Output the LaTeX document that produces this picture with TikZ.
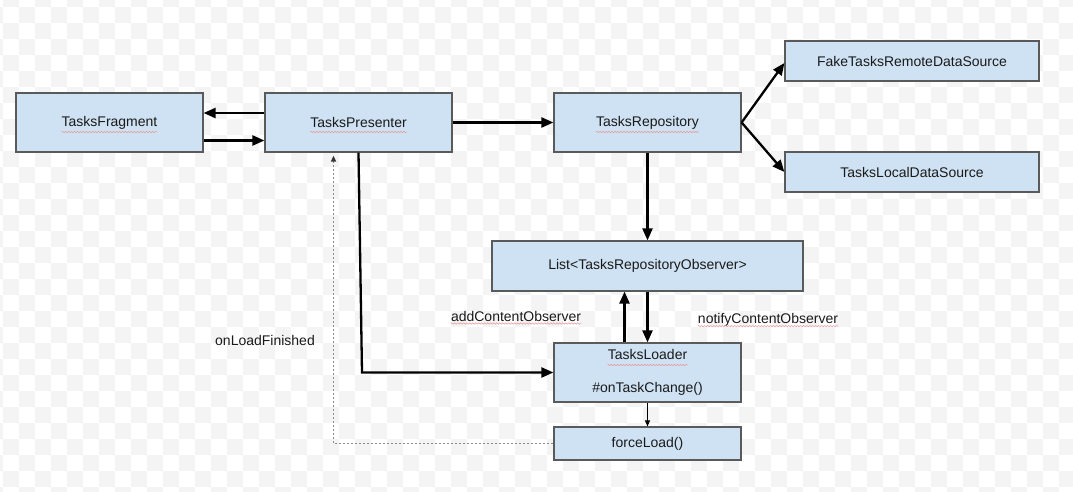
\documentclass[tikz,border=0pt]{standalone}
\usepackage{fontspec}
\setmainfont{Liberation Sans}
\usetikzlibrary{arrows.meta,decorations.pathmorphing}
\definecolor{boxfill}{HTML}{CFE2F3}
\definecolor{boxline}{HTML}{5A5A5A}
\definecolor{checker}{HTML}{F4F4F4}
\definecolor{squigcol}{HTML}{E89A9A}
\definecolor{dashcol}{HTML}{8C8C8C}
\definecolor{txt}{HTML}{1A1A1A}
\begin{document}
\begin{tikzpicture}[x=1pt,y=-1pt,
  font=\fontsize{14}{16}\selectfont, text=txt,
  box/.style={draw=boxline, fill=boxfill, line width=1.2pt, inner sep=0pt, align=center},
  conn/.style={line width=2.3pt, -{Triangle[length=12pt,width=10pt]}},
  thinconn/.style={line width=0.9pt, -{Triangle[length=6pt,width=5pt]}},
  dashconn/.style={draw=dashcol, line width=1.6pt, dash pattern=on 2pt off 2pt, -{Triangle[length=6pt,width=5pt,fill=black!80,color=black!80]}},
  lbl/.style={inner sep=0pt},
  squiggle/.style={draw=squigcol, line width=0.5pt, decorate, decoration={snake, amplitude=0.7pt, segment length=3pt}}]
% background
\fill[white] (0,0) rectangle (1073,492);
\begin{scope}
\clip (0,0) rectangle (1073,492);
\foreach \r in {-1,...,30} {
  \foreach \c in {-1,...,66} {
    \ifodd\numexpr\r+\c+2\relax
      \fill[checker] ({3+16*\c},{7+16*\r}) rectangle ++(16,16);
    \fi
  }
}
\end{scope}
\useasboundingbox (0,0) rectangle (1073,492);

% boxes
\node[box, minimum width=187pt, minimum height=59pt] (F) at (109.5,122.5) {TasksFragment};
\node[box, minimum width=187pt, minimum height=59pt] (P) at (358.5,122.5) {TasksPresenter};
\node[box, minimum width=187pt, minimum height=59pt] (R) at (647.5,122.5) {TasksRepository};
\node[box, minimum width=254pt, minimum height=40pt] (Fake) at (912,61) {FakeTasksRemoteDataSource};
\node[box, minimum width=254pt, minimum height=40pt] (Local) at (912,172) {TasksLocalDataSource};
\node[box, minimum width=311pt, minimum height=50pt] (L) at (647.5,266) {List<TasksRepositoryObserver>};
\node[box, minimum width=187pt, minimum height=59pt, font=\fontsize{14}{33}\selectfont] (TL) at (647.5,372.5) {TasksLoader\\\#onTaskChange()};
\node[box, minimum width=187pt, minimum height=33pt] (FL) at (647.5,443.5) {forceLoad()};

% labels
\node[lbl] (olf) at (265,340) {onLoadFinished};
\node[lbl] (aco) at (516,316) {addContentObserver};
\node[lbl] (nco) at (768,320) {notifyContentObserver};

% spell-check squiggles
\draw[squiggle] ([xshift=-48pt,yshift=-9.5pt]F.center) -- ++(96,0);
\draw[squiggle] ([xshift=-48.5pt,yshift=-9.5pt]P.center) -- ++(97,0);
\draw[squiggle] ([xshift=-51.5pt,yshift=-9.5pt]R.center) -- ++(103,0);
\draw[squiggle] ([xshift=-40pt,yshift=7.5pt]TL.center) -- ++(80,0);
\draw[squiggle] ([yshift=-2.5pt]aco.base west) -- ([yshift=-2.5pt]aco.base east);
\draw[squiggle] ([yshift=-2.5pt]nco.base west) -- ([yshift=-2.5pt]nco.base east);

% connectors
\draw[conn] ([yshift=9.5pt]P.west) -- ([yshift=9.5pt]F.east);
\draw[conn] ([yshift=-18pt]F.east) -- ([yshift=-18pt]P.west);
\draw[conn] (P.east) -- (R.west);
\draw[conn] (R.east) -- ([yshift=-2pt]Fake.west);
\draw[conn] (R.east) -- (Local.west);
\draw[conn] (R.south) -- (L.north);
\draw[conn] ([xshift=-23pt]TL.north) -- ([xshift=-23pt]L.south);
\draw[conn] (L.south) -- (TL.north);
\draw[thinconn] (TL.south) -- (FL.north);
\coordinate (bend) at (362,372.5);
\draw[conn] (P.south) -- (bend) -- (TL.west);
\draw[dashconn] (FL.west) -| ([xshift=-25pt,yshift=-3pt]P.south);
\end{tikzpicture}
\end{document}
